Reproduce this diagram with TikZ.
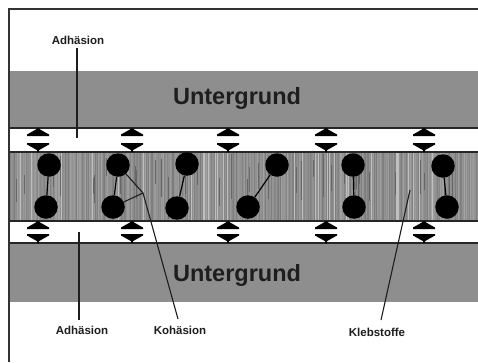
\documentclass[tikz,border=0pt]{standalone}
\usepackage{fontspec}
\setmainfont{Liberation Sans}
\definecolor{bandgray}{RGB}{142,142,142}
\definecolor{gluegray}{RGB}{145,145,145}
\definecolor{inkdark}{RGB}{30,30,30}
\begin{document}
\begin{tikzpicture}[x=1pt,y=-1pt,
  frameline/.style={draw=black!80,line width=2pt},
  edgeline/.style={draw=black!85,line width=1.8pt},
  ball/.style={circle,fill=black,inner sep=0pt,minimum size=23.5pt},
  bond/.style={draw=black,line width=1.2pt},
  leader/.style={draw=inkdark,line width=1.1pt},
  ground/.style={text=inkdark,font=\fontsize{23.5}{28}\selectfont\bfseries,inner sep=0pt},
  lab/.style={text=inkdark,font=\fontsize{11.5}{13}\selectfont\bfseries,inner sep=1pt},
  force/.style={fill=black}]
\useasboundingbox (0,0) rectangle (478,362);
\fill[white] (0,0) rectangle (478,362);

% substrate layers
\fill[bandgray] (9,71) rectangle (478,128);
\fill[bandgray] (9,243) rectangle (478,302);

% adhesive layer with fine vertical grain
\fill[gluegray] (9,152) rectangle (478,221);
\pgfmathsetseed{17}
\foreach \i in {0,...,311}{
  \pgfmathsetmacro\g{36+rnd*16}
  \draw[color=black!\g,line width=0.6pt] (10+1.5*\i,152) -- (10+1.5*\i,221);
}
\foreach \i in {0,...,40}{
  \pgfmathsetmacro\xs{12+rnd*462}
  \pgfmathsetmacro\ya{152+rnd*30}
  \pgfmathsetmacro\yb{\ya+15+rnd*30}
  \draw[color=black!60,line width=0.6pt] (\xs,\ya) -- (\xs,\yb);
}
\foreach \i in {0,...,30}{
  \pgfmathsetmacro\xs{12+rnd*462}
  \draw[color=black!25,line width=0.5pt] (\xs,153) -- (\xs,220);
}

% layer boundaries
\draw[edgeline] (9,128) -- (478,128);
\draw[edgeline] (9,152) -- (478,152);
\draw[edgeline] (9,221) -- (478,221);
\draw[edgeline] (9,243) -- (478,243);

% frame
\draw[frameline] (9,362) -- (9,9) -- (478,9);

% adhesion force markers in both gaps
\foreach \x in {38,132,228,326,424}{
  \foreach \ta/\tb in {128/152,221/243}{
    \fill[force] (\x-11,\ta+8) -- (\x+11,\ta+8) -- (\x+11,\ta+6.5)
      -- (\x+3,\ta+2) -- (\x,\ta) -- (\x-3,\ta+2) -- (\x-11,\ta+6.5) -- cycle;
    \fill[force] (\x-11,\tb-9) -- (\x+11,\tb-9) -- (\x+11,\tb-7.5)
      -- (\x+3,\tb-3) -- (\x+1,\tb-2) -- (\x+1,\tb) -- (\x-1,\tb)
      -- (\x-1,\tb-2) -- (\x-3,\tb-3) -- (\x-11,\tb-7.5) -- cycle;
  }
}

% molecules
\node[ball] (t1) at (49,165) {};
\node[ball] (b1) at (46,207) {};
\node[ball] (t2) at (118,165) {};
\node[ball] (b2) at (113,207) {};
\node[ball] (t3) at (187,164) {};
\node[ball] (b3) at (177,208) {};
\node[ball] (t4) at (277,165) {};
\node[ball] (b4) at (248,207) {};
\node[ball] (t5) at (353,165) {};
\node[ball] (b5) at (354,207) {};
\node[ball] (t6) at (443,166) {};
\node[ball] (b6) at (447,207) {};
\foreach \n in {1,...,6}{ \draw[bond] (t\n) -- (b\n); }

% cohesion junction
\coordinate (kj) at (143,193);
\draw[leader] (t2) -- (kj);
\draw[leader] (b2) -- (kj);

% substrate labels
\node[ground] (u1) at (237,98) {Untergrund};
\node[ground] (u2) at (237,275) {Untergrund};

% callout labels
\node[lab] (adh1) at (78,40) {Adhäsion};
\node[lab] (adh2) at (82,330) {Adhäsion};
\node[lab] (koh) at (180,330) {Kohäsion};
\node[lab] (kleb) at (377,332) {Klebstoffe};

\coordinate (adh1end) at (77,138);
\coordinate (adh1top) at (77,48);
\coordinate (adh2top) at (79,232);
\coordinate (adh2end) at (79,320);
\coordinate (kohend) at (178,319);
\coordinate (klebtop) at (410,190);
\coordinate (klebend) at (381,320);

\draw[leader] (adh1top) -- (adh1end);
\draw[leader] (adh2top) -- (adh2end);
\draw[leader] (kj) -- (kohend);
\draw[leader] (klebtop) -- (klebend);
\end{tikzpicture}
\end{document}
